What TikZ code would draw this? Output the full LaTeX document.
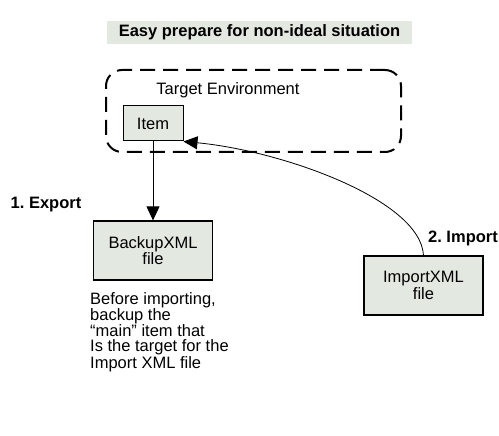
\documentclass[tikz,border=0pt]{standalone}
\usepackage{fontspec}
\setmainfont{Liberation Sans}
\usepackage{xcolor}
\usetikzlibrary{arrows.meta,positioning}
\definecolor{boxfill}{RGB}{227,232,224}
\frenchspacing

\begin{document}
\begin{tikzpicture}[x=1pt, y=-1pt,
    every node/.style={font=\fontsize{16.5}{15}\selectfont},
    box/.style={draw, fill=boxfill, line width=1.2pt, align=center},
    head/.style={font=\fontsize{16.5}{15}\selectfont\bfseries, inner sep=0pt},
    tip/.style={-{Triangle[length=14pt,width=13pt]}, line width=0.8pt}]
    \useasboundingbox (0,0) rectangle (499,436);

    \node (title) [fill=boxfill, minimum width=305pt, minimum height=23pt, font=\fontsize{16.5}{15}\selectfont\bfseries] at (259.5,32.5) {Easy prepare for non-ideal situation};

    \node (env) [draw, dash pattern=on 15pt off 8pt, line width=2pt, rounded corners=16pt, minimum width=295pt, minimum height=82pt] at (253.5,111) {};
    \node (envlabel) [inner sep=0pt] at (228,90) {Target Environment};
    \node (item) [box, line width=1pt, minimum width=60pt, minimum height=35pt] at (153,123.5) {Item};

    \node (backup) [box, minimum width=119pt, minimum height=59pt] at (153,250.5) {BackupXML\\file};
    \node (import) [box, minimum width=119pt, minimum height=59pt] at (423.5,285.5) {ImportXML\\file};

    \node (export) [head] at (46,205) {1. Export};
    \node (importlabel) [head] at (463,238) {2. Import};

    \node (note) [anchor=north west, inner sep=0pt, align=left] at (90,292) {Before importing,\\backup the\\“main” item that\\Is the target for the\\Import XML file};

    \draw [tip] (item.south) -- (backup.north);
    \draw [tip] (import.north) .. controls +(-3,-56) and +(97,9) .. (item.south east);
\end{tikzpicture}
\end{document}
